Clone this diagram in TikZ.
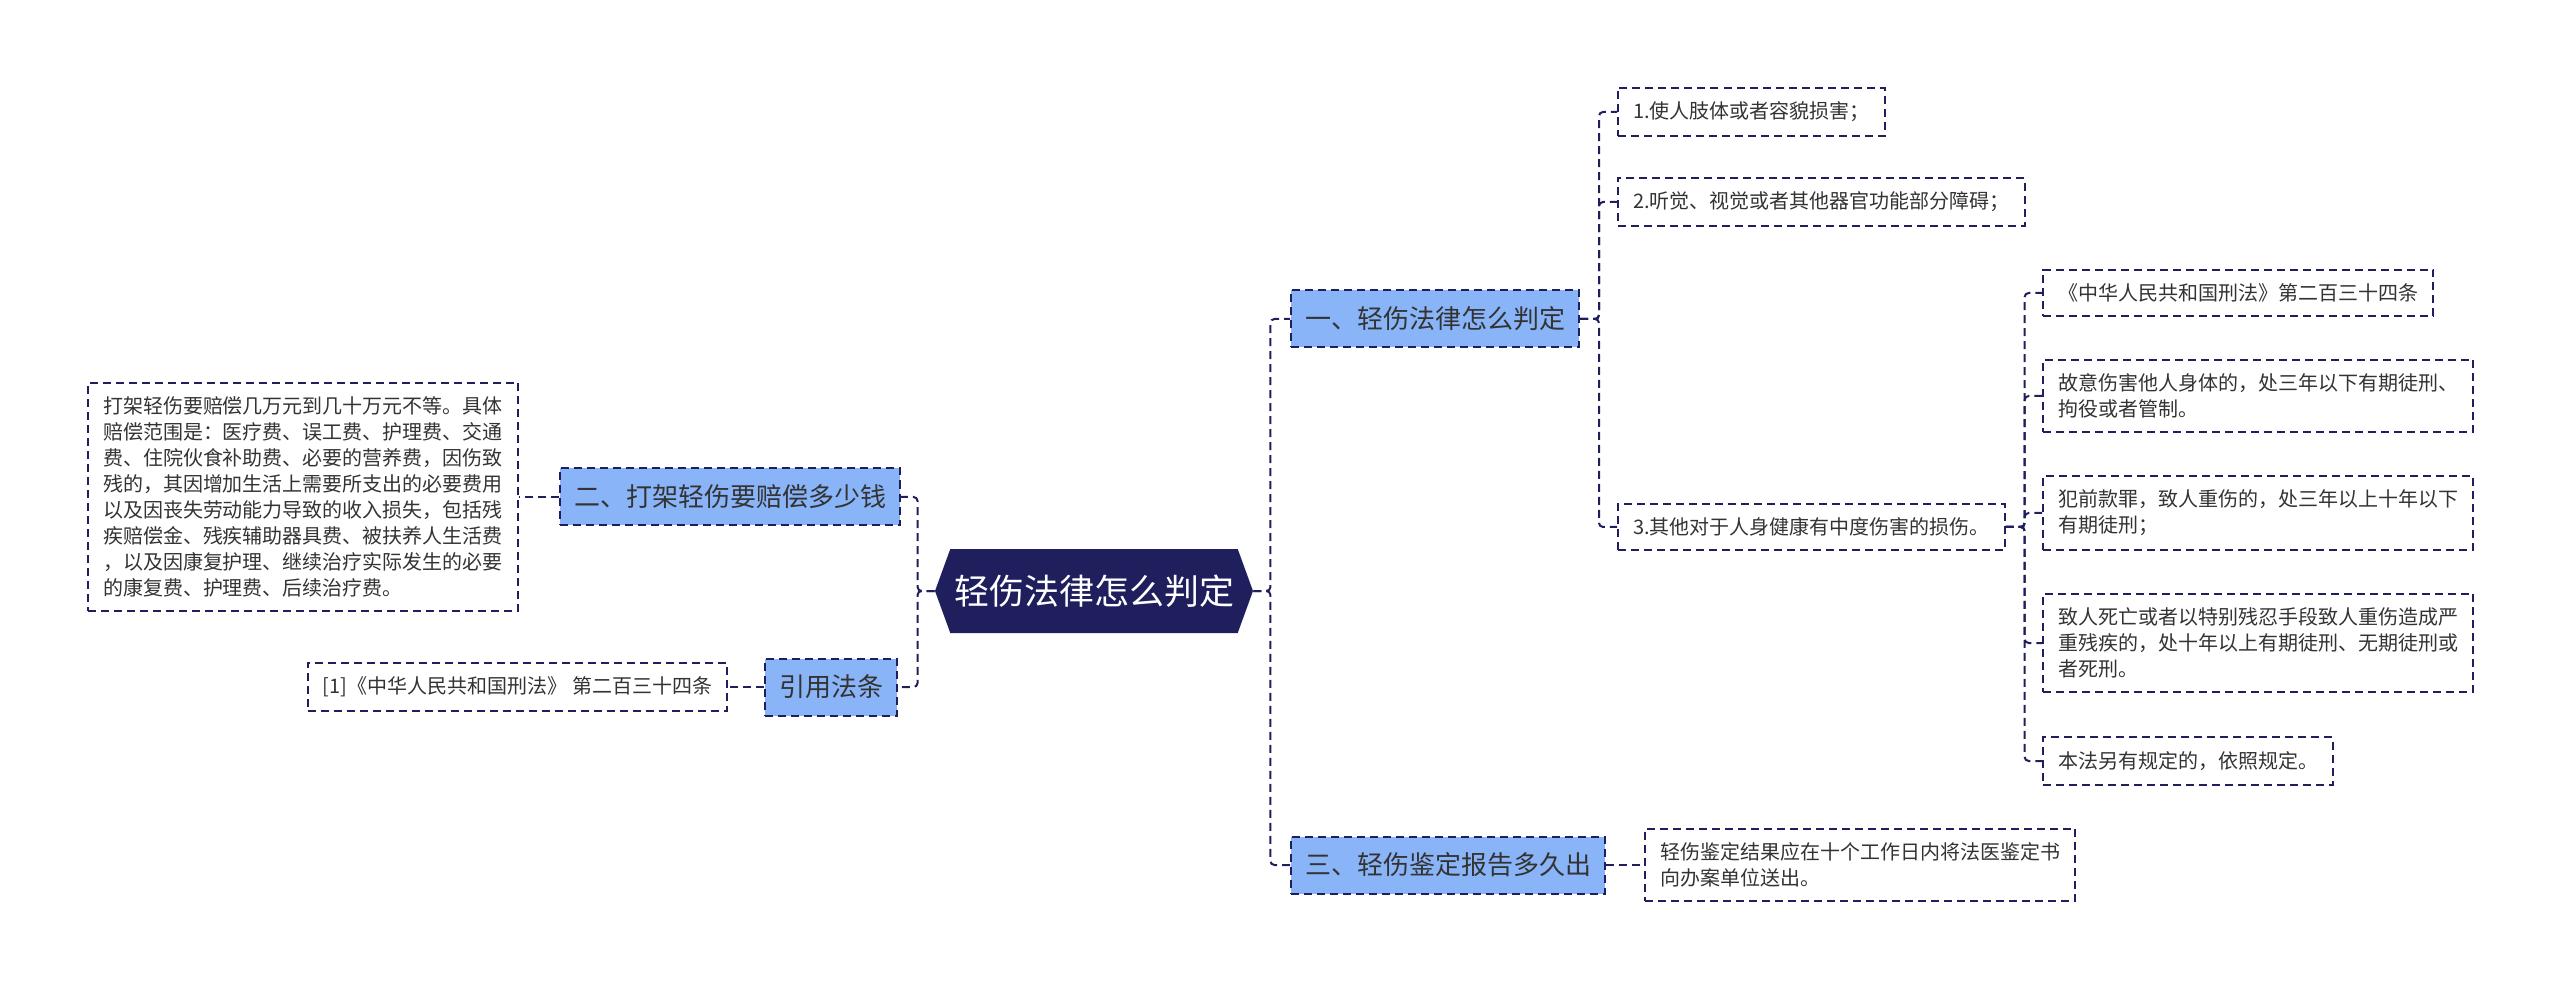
\documentclass[tikz,border=0pt]{standalone}
\usepackage{fontspec}
\setmainfont{Noto Sans CJK SC}
\usetikzlibrary{shapes.symbols}
\definecolor{navy}{HTML}{1E1F5C}
\definecolor{topicblue}{HTML}{8AB4F8}
\definecolor{ink}{HTML}{333333}

\begin{document}
\begin{tikzpicture}[x=0.5pt, y=-0.5pt,
    rootbox/.style={signal, signal to=west and east, signal pointer angle=140, fill=navy, text=white, minimum width=159pt, minimum height=42pt, inner sep=0pt, font=\fontsize{17.5}{21}\selectfont},
    topicbox/.style={draw=navy, fill=topicblue, line width=1pt, dash pattern=on 4pt off 2.5pt, text=ink, minimum height=28.5pt, inner xsep=7pt, font=\fontsize{13}{16}\selectfont},
    leafbox/.style={draw=navy, line width=1pt, dash pattern=on 4pt off 2.5pt, text=ink, align=left, minimum height=23pt, inner xsep=7.5pt, inner ysep=7pt, font=\fontsize{10}{13}\selectfont},
    link/.style={draw=navy, line width=1pt, dash pattern=on 4pt off 2.5pt, rounded corners=2pt}]
      \useasboundingbox (0, 0) rectangle (2560, 989);

      \node[rootbox] (root) at (1094, 591) {轻伤法律怎么判定};

      \node[topicbox, anchor=east] (two) at (901, 497) {二、打架轻伤要赔偿多少钱};
      \node[topicbox, anchor=east] (cite) at (898, 687) {引用法条};
      \node[topicbox, anchor=west] (one) at (1290, 319) {一、轻伤法律怎么判定};
      \node[topicbox, anchor=west] (three) at (1290, 865) {三、轻伤鉴定报告多久出};

      \node[leafbox, anchor=east] (pay) at (519, 497) {打架轻伤要赔偿几万元到几十万元不等。具体\\赔偿范围是：医疗费、误工费、护理费、交通\\费、住院伙食补助费、必要的营养费，因伤致\\残的，其因增加生活上需要所支出的必要费用\\以及因丧失劳动能力导致的收入损失，包括残\\疾赔偿金、残疾辅助器具费、被扶养人生活费\\，以及因康复护理、继续治疗实际发生的必要\\的康复费、护理费、后续治疗费。};
      \node[leafbox, anchor=east] (ref) at (728, 687) {{[1]}《中华人民共和国刑法》 第二百三十四条};

      \node[leafbox, anchor=west] (hurt1) at (1617, 112) {1.使人肢体或者容貌损害；};
      \node[leafbox, anchor=west] (hurt2) at (1617, 202) {2.听觉、视觉或者其他器官功能部分障碍；};
      \node[leafbox, anchor=west] (hurt3) at (1617, 527) {3.其他对于人身健康有中度伤害的损伤。};

      \node[leafbox, anchor=west] (law1) at (2042, 293) {《中华人民共和国刑法》第二百三十四条};
      \node[leafbox, anchor=west] (law2) at (2042, 396) {故意伤害他人身体的，处三年以下有期徒刑、\\拘役或者管制。};
      \node[leafbox, anchor=west] (law3) at (2042, 513) {犯前款罪，致人重伤的，处三年以上十年以下\\有期徒刑；};
      \node[leafbox, anchor=west] (law4) at (2042, 643) {致人死亡或者以特别残忍手段致人重伤造成严\\重残疾的，处十年以上有期徒刑、无期徒刑或\\者死刑。};
      \node[leafbox, anchor=west] (law5) at (2042, 761) {本法另有规定的，依照规定。};

      \node[leafbox, anchor=west] (report) at (1644, 865) {轻伤鉴定结果应在十个工作日内将法医鉴定书\\向办案单位送出。};

      \foreach \n in {two, cite}
        \draw[link] (root.west) -- ++(-17, 0) |- (\n.east);
      \foreach \n in {one, three}
        \draw[link] (root.east) -- ++(17, 0) |- (\n.west);
      \foreach \n in {hurt1, hurt2, hurt3}
        \draw[link] (one.east) -- ++(19, 0) |- (\n.west);
      \foreach \n in {law1, law2, law3, law4, law5}
        \draw[link] (hurt3.east) -- ++(19, 0) |- (\n.west);
      \draw[link] (two.west) -- (pay.east);
      \draw[link] (cite.west) -- (ref.east);
      \draw[link] (three.east) -- (report.west);
    \end{tikzpicture}
\end{document}
